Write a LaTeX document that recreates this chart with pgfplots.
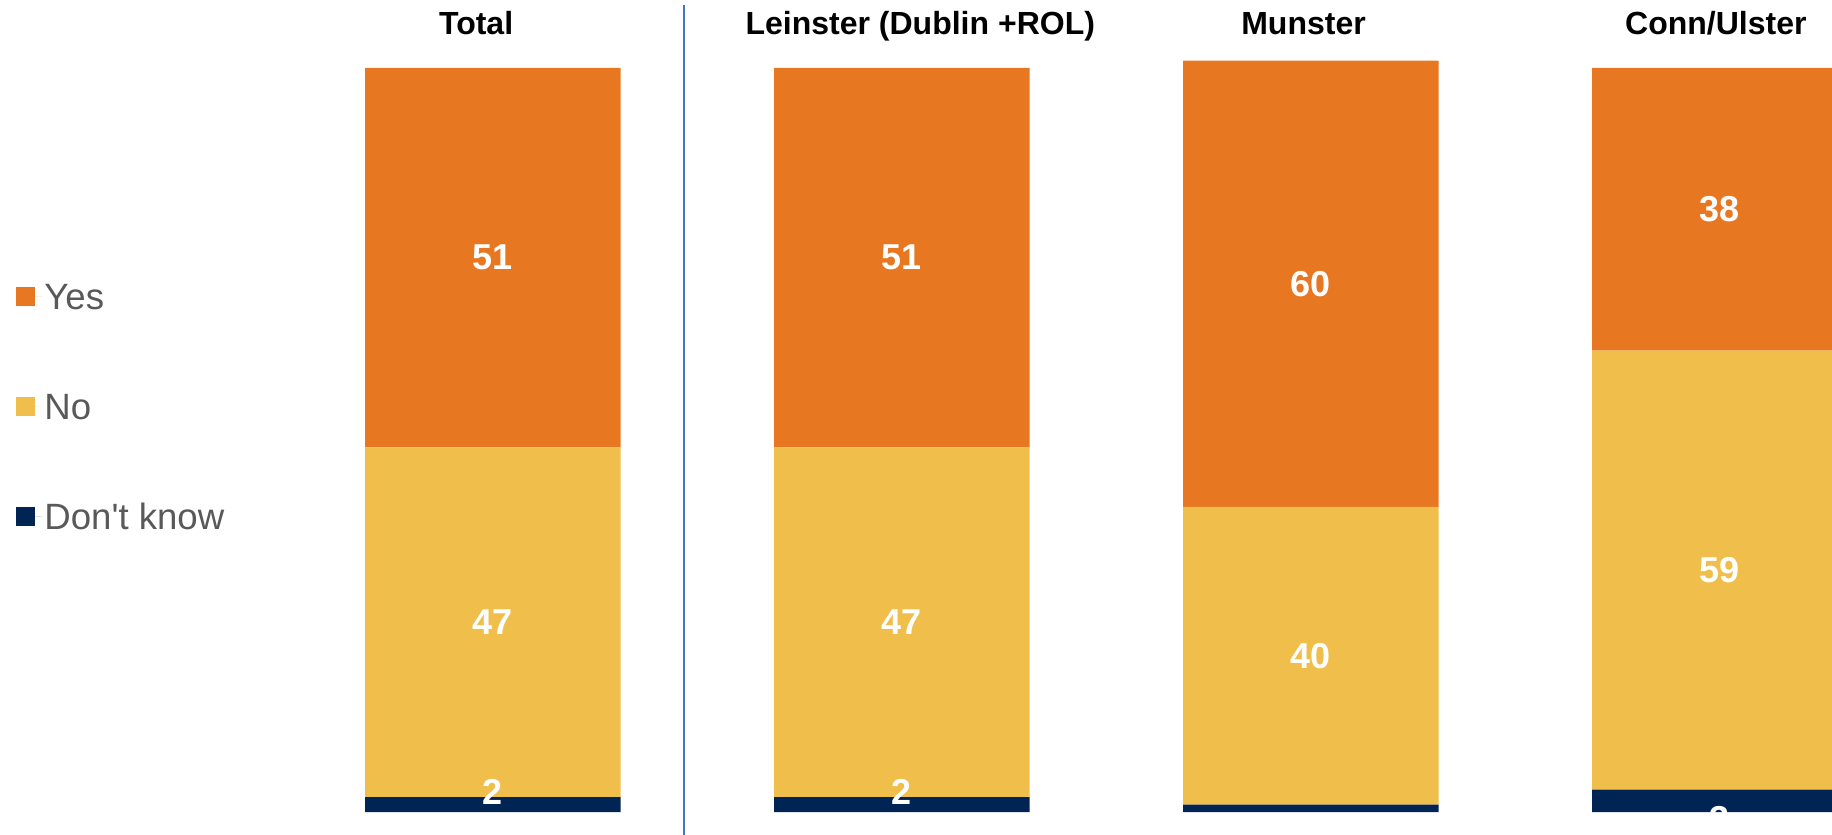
\documentclass[border=0pt]{standalone}
\usepackage{fontspec}
\setmainfont{Liberation Sans}
\usepackage{pgfplots}
\usepackage{pgfplotstable}
\pgfplotsset{compat=1.18}
\definecolor{cyes}{HTML}{E87722}
\definecolor{cno}{HTML}{F0BE4A}
\definecolor{cdk}{HTML}{002555}
\definecolor{csep}{HTML}{4472C4}
\definecolor{legtext}{HTML}{595959}

% x: 0 Total, 1 Leinster (Dublin +ROL), 2 Munster, 3 Conn/Ulster
\pgfplotstableread{
x dk no yes
0 2 47 51
1 2 47 51
2 1 40 60
3 3 59 38
}\datatable

\pgfplotstableread{
x y lab
0 2.75 2
0 25.5 47
0 74.5 51
1 2.75 2
1 25.5 47
1 74.5 51
2 -2.0 1
2 21 40
2 71 60
3 -0.9 3
3 32.5 59
3 81 38
}\labeltable

\pgfplotsset{
  base/.style={
    at={(0,0)}, anchor=south west,
    scale only axis, width=916pt, height=417.5pt,
    xmin=-1.205, xmax=3.274, ymin=-3.09, ymax=109.14,
    hide axis,
  }
}

\begin{document}
\begin{tikzpicture}
\useasboundingbox (0,0) rectangle (916pt,417.5pt);
\begin{axis}[
  base,
  ybar stacked, bar width=0.625,
  reverse legend,
  legend cell align=left,
  legend image code/.code={\path (0pt,0pt) -- (13pt,0pt);\fill[#1,draw=none] (0pt,-4.75pt) rectangle (9.5pt,4.75pt);},
  legend style={
    draw=none, fill=none,
    at={(5pt,279pt)}, anchor=north west,
    font=\fontsize{18.3pt}{20pt}\selectfont,
    text=legtext,
    row sep=40pt,
    nodes={inner sep=1pt, text height=13pt, text depth=0pt},
  },
]
\addplot[fill=cdk, draw=none] table[x=x, y=dk] {\datatable};
\addplot[fill=cno, draw=none] table[x=x, y=no] {\datatable};
\addplot[fill=cyes, draw=none] table[x=x, y=yes] {\datatable};
\legend{Don\textquotesingle t know, No, Yes}

\node[font=\fontsize{16pt}{18pt}\selectfont\bfseries, anchor=base] at (axis cs:-0.041,104.53) {Total};
\node[font=\fontsize{16pt}{18pt}\selectfont\bfseries, anchor=base] at (axis cs:1.045,104.53) {Leinster (Dublin +ROL)};
\node[font=\fontsize{16pt}{18pt}\selectfont\bfseries, anchor=base] at (axis cs:1.982,104.53) {Munster};
\node[font=\fontsize{16pt}{18pt}\selectfont\bfseries, anchor=base] at (axis cs:2.99,104.53) {Conn/Ulster};
\end{axis}

\begin{axis}[base, clip=false]
\addplot[csep, line width=0.75pt, forget plot] coordinates {(0.4675,108.47) (0.4675,-3.09)};
\addplot[draw=none, forget plot,
  nodes near coords,
  point meta=explicit symbolic,
  every node near coord/.append style={anchor=center, text=white,
    font=\fontsize{18pt}{20pt}\selectfont\bfseries, inner sep=0pt},
] table[x=x, y=y, meta=lab] {\labeltable};
\end{axis}
\end{tikzpicture}
\end{document}
